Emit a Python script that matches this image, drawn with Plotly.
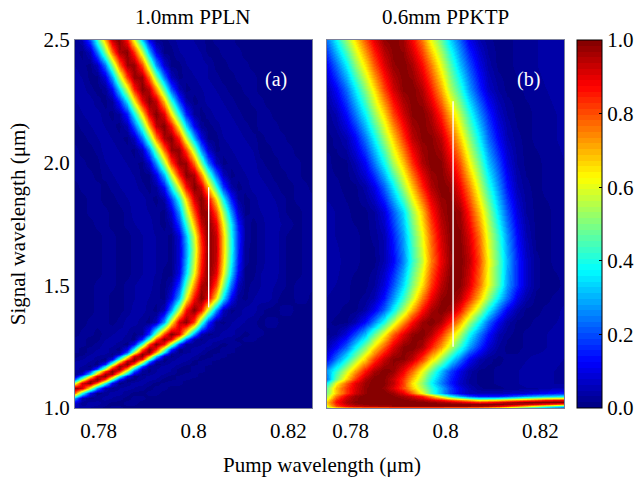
import numpy as np
import plotly.graph_objects as go

# Pump wavelength grid (um) and signal wavelength rows (um)
ppln_pump = np.linspace(0.775, 0.825, 33)
ppktp_pump = np.linspace(0.775, 0.825, 26)

ppln_signal = [1.00, 1.02, 1.04, 1.06, 1.08, 1.10, 1.11, 1.12, 1.13, 1.14, 1.15, 1.16, 1.17, 1.18, 1.19, 1.20, 1.21,
               1.22, 1.23, 1.24, 1.26, 1.28, 1.30, 1.35, 1.40, 1.45, 1.50, 1.55, 1.60, 1.65, 1.70, 1.75, 1.80, 1.85,
               1.90, 1.95, 2.00, 2.05, 2.10, 2.15, 2.20, 2.25, 2.30, 2.35, 2.40, 2.45, 2.50]

# Values, in percent; the dark background continues to the right of each listed row
ppln_rows = [
    [5,4,3,2,1,2,2],
    [8,2,4,4,2,1,1,2,2],
    [27,5,1,2,4,3,2,1,2,2],
    [77,42,12,1,2,4,4,2,1,1,2,2],
    [99,92,61,27,5,1,3,4,3,2,1,2,2],
    [59,91,99,77,42,12,1,2,4,4,2,1,2,2,2],
    [38,73,98,94,65,30,6,1,2,4,3,2,1,2,2],
    [21,52,85,100,84,50,18,2,1,3,4,3,1,1,2,2],
    [5,27,61,92,99,77,42,12,1,2,4,4,2,1,2,2,2],
    [1,8,34,69,97,96,67,34,8,1,2,4,3,2,1,2,2],
    [2,2,18,50,82,100,87,54,21,3,1,3,4,3,1,1,2,2],
    [4,2,3,21,57,91,98,71,34,6,1,3,4,3,1,1,2,2],
    [4,3,1,6,34,71,98,91,57,21,3,2,4,4,2,1,2,2],
    [4,4,2,1,15,50,85,100,79,42,11,1,2,4,3,2,1,2,2],
    [3,4,3,1,4,27,62,95,96,65,27,5,1,3,4,3,1,2,2],
    [2,3,4,2,1,10,42,77,100,87,50,16,1,2,4,4,2,1,2,2],
    [1,2,4,3,2,3,22,57,92,98,71,34,6,1,3,4,3,1,1,2,2],
    [1,1,3,4,3,1,7,34,73,99,90,57,21,2,2,4,4,2,1,2,2],
    [2,1,2,4,4,2,2,19,54,90,99,73,38,8,1,2,4,3,1,1,2,2],
    [2,1,2,3,4,2,1,10,38,77,100,87,52,18,1,2,4,4,2,1,2,2],
    [2,2,1,2,4,4,2,1,12,44,81,100,87,54,18,2,2,3,4,2,1,2,2],
    [2,2,1,1,3,4,4,2,1,15,44,79,99,90,57,24,4,1,3,4,3,2,1,2,2],
    [1,2,2,1,2,3,4,3,1,3,18,50,81,100,90,59,27,5,1,2,4,4,2,1,2,2],
    [1,1,2,2,2,1,2,4,4,2,1,6,28,61,92,99,81,46,18,2,1,3,4,3,2,1,2,2],
    [1,1,1,2,2,1,1,2,4,4,2,1,6,27,57,87,100,87,57,27,6,1,2,4,4,2,1,1,2,2],
    [1,1,1,2,2,1,1,2,3,4,3,2,1,10,30,61,87,100,90,65,36,12,2,1,3,4,4,2,1,1,2,2,1],
    [1,1,1,2,2,2,1,2,3,4,4,2,1,4,18,46,73,95,98,81,52,24,6,1,2,3,4,3,2,1,2,2,2],
    [1,1,1,1,2,2,1,1,2,3,4,3,1,1,10,34,61,87,100,90,63,34,12,1,1,3,4,4,2,1,1,2,2],
    [1,1,1,1,2,2,1,1,2,3,4,3,2,1,8,30,57,84,100,93,67,38,15,2,1,2,4,4,2,1,1,2,2],
    [1,1,1,1,2,2,1,1,2,3,4,3,2,1,8,28,55,82,99,94,68,40,16,2,1,2,4,4,2,1,1,2,2],
    [1,1,1,1,2,2,1,1,2,3,4,3,2,1,9,31,58,85,100,93,68,39,17,3,1,2,4,4,2,1,1,2,2],
    [1,1,1,2,2,1,1,2,3,4,4,2,1,4,18,42,69,93,100,89,63,36,14,3,1,2,4,4,3,2,1,2,2],
    [1,1,2,2,2,1,1,2,4,4,3,2,1,8,27,54,80,98,97,80,54,27,8,1,2,3,4,4,2,1,1,2,2],
    [1,1,2,2,1,1,2,3,4,4,2,1,4,18,40,67,91,100,89,65,38,15,3,1,2,4,4,3,2,1,2,2,2],
    [1,2,2,2,1,2,3,4,4,2,1,3,13,36,62,87,100,93,69,42,18,4,1,2,4,4,3,2,1,1,2,2,1],
    [2,2,2,1,2,3,4,4,3,1,1,10,30,57,84,99,96,75,48,23,6,1,2,3,4,3,2,1,1,2,2,1,1],
    [2,2,1,1,3,4,4,3,2,1,8,27,54,81,98,97,77,50,24,6,1,2,3,4,4,2,1,1,2,2,2,1,1],
    [2,1,1,2,4,4,3,2,1,6,24,50,77,97,98,81,54,27,8,1,2,3,4,4,3,1,1,2,2,2,1,1,1],
    [1,1,2,3,4,3,2,1,6,24,48,75,96,99,84,57,30,10,1,1,3,4,4,3,2,1,2,2,2,1],
    [1,2,3,4,3,2,1,5,21,44,71,94,100,87,61,34,12,2,1,2,4,4,3,2,1,2,2,2,1],
    [2,3,4,4,2,1,3,15,38,65,90,100,90,65,38,15,3,1,2,4,4,3,2,1,1,2,2,1],
    [3,4,4,2,1,3,15,36,63,89,100,93,69,42,18,4,1,2,4,4,3,2,1,1,2,2,1],
    [4,4,2,1,2,12,34,59,85,100,94,73,46,21,5,1,2,3,4,3,2,1,1,2,2,1],
    [4,3,1,1,9,28,55,82,98,97,77,50,24,6,1,2,3,4,3,2,1,1,2,2,2],
    [3,2,1,6,24,50,77,97,98,81,54,27,8,1,1,3,4,4,3,1,1,2,2,2],
    [2,1,6,24,50,77,96,99,83,57,30,10,1,1,3,4,4,3,1,1,2,2,2],
    [1,5,19,42,69,93,100,87,61,34,12,2,1,2,4,4,3,2,1,2,2,2],
]

ppktp_signal = [1.000, 1.008, 1.016, 1.024, 1.032, 1.04, 1.05, 1.06, 1.08, 1.10, 1.12, 1.15, 1.20, 1.25, 1.30,
                1.35, 1.40, 1.45, 1.50, 1.60, 1.70, 1.80, 1.90, 2.00, 2.10, 2.20, 2.30, 2.40, 2.50]

ppktp_rows = [
    [50,58,64,66,66,66,66,66,66,66,66,66,66,64,64,62,60,56,52,46,40,34,28,22,18,14],
    [62,80,88,92,94,95,96,97,97,97,97,97,97,97,97,97,96,94,90,84,76,68,60,52,44,38],
    [66,84,93,97,99,100,100,100,100,100,100,100,100,100,100,100,100,100,99,98,96,93,90,86,82,78],
    [68,86,95,99,100,100,100,100,100,100,99,98,96,94,91,88,84,86,90,94,97,99,100,100,100,100],
    [64,84,94,98,100,100,100,100,99,98,96,92,88,82,76,70,62,64,66,70,74,78,82,86,88,90],
    [58,80,92,98,100,100,100,100,98,95,90,82,72,60,50,42,36,36,38,42,46,50,54,58,60,62],
    [55,76,90,97,100,100,100,99,96,92,85,72,56,40,28,20,15,14,15,18,22,26,30,32,34,36],
    [50,68,82,92,98,100,100,97,90,78,62,44,30,18,10,6,5,5,5,6,7,8,10,12,14,15],
    [48,69,82,91,98,100,98,91,81,68,55,42,30,19,10,5,2,1,1,2,2,3,3,4,5,5],
    [38,61,78,90,97,100,99,94,82,65,52,38,25,15,7,3,1,1,2,2,3,4,4,4,3,3],
    [24,48,66,82,95,100,99,93,83,69,55,40,27,16,8,3,1,1,2,2,3,4,4,4,3,3],
    [28,42,57,72,86,96,100,98,89,77,61,47,32,19,10,4,1,1,2,2,3,4,4,4,3,2],
    [12,24,38,52,67,82,93,99,99,94,82,67,53,38,24,12,5,2,1,2,2,3,4,4,4,3],
    [5,12,22,36,50,65,79,91,99,100,96,85,72,57,42,28,17,8,3,1,1,2,2,3,4,4],
    [1,3,9,19,31,47,62,78,90,98,100,95,84,70,55,39,25,14,5,2,1,2,2,3,4,4],
    [2,1,1,5,13,25,40,56,73,87,97,100,96,85,71,54,38,23,11,4,1,1,2,2,3,4],
    [3,2,1,1,4,11,22,37,54,70,86,96,100,97,86,71,55,38,23,11,4,1,1,2,2,4],
    [3,2,2,1,2,5,14,27,42,57,75,89,98,100,95,84,69,53,36,23,10,4,1,1,2,2],
    [4,3,2,1,1,3,9,20,34,50,65,82,94,100,99,91,77,61,46,28,16,7,2,1,1,2],
    [4,4,2,2,1,1,5,12,25,42,57,75,89,98,100,94,81,63,47,30,16,7,2,1,2,2],
    [4,3,2,2,1,2,5,15,28,45,61,78,92,99,99,91,77,59,43,27,13,5,1,1,2,2],
    [4,3,2,1,1,3,9,21,34,52,68,85,96,100,97,85,69,53,35,21,9,3,1,1,2,3],
    [2,2,1,1,4,10,22,36,53,68,84,95,100,98,88,75,58,42,27,14,5,2,1,2,2,3],
    [2,1,1,5,12,24,38,54,68,83,95,100,99,91,79,63,48,32,20,9,3,1,1,2,2,3],
    [1,2,5,12,24,37,53,67,82,94,99,99,94,82,67,52,37,23,12,5,2,1,2,2,3,4],
    [2,5,13,24,37,52,66,81,92,99,100,95,84,70,55,41,27,16,7,3,1,1,2,2,3,4],
    [5,12,23,36,51,65,81,92,99,100,95,85,71,55,42,28,16,7,3,1,1,2,2,3,4,4],
    [12,23,36,51,65,79,91,98,100,96,87,75,60,46,31,20,10,4,1,1,2,2,3,4,4,4],
    [24,37,52,65,79,90,98,100,97,88,76,61,48,34,22,11,5,2,1,1,2,3,3,4,4,4],
]

# White marker lines
ppln_line_x = [0.8032, 0.8032]
ppln_line_y = [1.41, 1.90]
ppktp_line_x = [0.8016, 0.8016]
ppktp_line_y = [1.25, 2.25]

x_ticks = [0.78, 0.8, 0.82]
y_ticks = [1.0, 1.5, 2.0, 2.5]
bar_ticks = [0.0, 0.2, 0.4, 0.6, 0.8, 1.0]

jet_pos = [0, 0.125, 0.375, 0.625, 0.875, 1]
jet_r = [0, 0, 0, 255, 255, 127]
jet_g = [0, 0, 255, 255, 0, 0]
jet_b = [127, 255, 255, 0, 0, 0]

LEVELS = 64
scale = []
for k in range(LEVELS):
    t = (k + 0.5) / LEVELS
    col = "rgb(%d,%d,%d)" % (np.interp(t, jet_pos, jet_r), np.interp(t, jet_pos, jet_g), np.interp(t, jet_pos, jet_b))
    scale += [[k / LEVELS, col], [(k + 1) / LEVELS, col]]

pad = lambda r: r + [1] * (33 - len(r))
ppln_z = np.array([pad(r) for r in ppln_rows]) / 100
ppktp_z = np.array(ppktp_rows) / 100

W, H = 638, 479
FONT = "Liberation Serif"
X0a, X1a, X0b, X1b = 75 / W, 312 / W, 327 / W, 564 / W
Y0, Y1 = (H - 408) / H, (H - 40) / H

fig = go.Figure()
fig.add_trace(go.Heatmap(x=ppln_pump, y=ppln_signal, z=ppln_z, coloraxis="coloraxis", zsmooth="best",
                         xaxis="x", yaxis="y"))
fig.add_trace(go.Heatmap(x=ppktp_pump, y=ppktp_signal, z=ppktp_z, coloraxis="coloraxis", zsmooth="best",
                         xaxis="x2", yaxis="y2"))
fig.add_trace(go.Scatter(x=ppln_line_x, y=ppln_line_y, mode="lines", line=dict(color="white", width=1.4),
                         showlegend=False, xaxis="x", yaxis="y"))
fig.add_trace(go.Scatter(x=ppktp_line_x, y=ppktp_line_y, mode="lines", line=dict(color="white", width=1.4),
                         showlegend=False, xaxis="x2", yaxis="y2"))

xcommon = dict(range=[0.775, 0.825], tickvals=x_ticks, ticks="", showgrid=False, zeroline=False,
               showline=True, mirror=True, linecolor="#7a7f9a", linewidth=1, tickfont=dict(size=21),
               ticklabelstandoff=4)
ycommon = dict(range=[1.0, 2.5], tickvals=y_ticks, ticks="", showgrid=False, zeroline=False,
               showline=True, mirror=True, linecolor="#7a7f9a", linewidth=1, tickfont=dict(size=21))

shapes = [dict(type="line", xref="paper", yref="paper", x0=577 / W, x1=580 / W,
               y0=Y0 + v * (Y1 - Y0), y1=Y0 + v * (Y1 - Y0), line=dict(color="black", width=1))
          for v in bar_ticks[1:-1]]

label = dict(xref="paper", yref="paper", showarrow=False, xanchor="center", yanchor="middle")
annotations = [
    dict(text="1.0mm PPLN", x=193 / W, y=1 - 17 / H, font=dict(size=21), **label),
    dict(text="0.6mm PPKTP", x=445 / W, y=1 - 17 / H, font=dict(size=21), **label),
    dict(text="(a)", x=276 / W, y=1 - 79 / H, font=dict(size=20, color="white"), **label),
    dict(text="(b)", x=528 / W, y=1 - 79 / H, font=dict(size=20, color="white"), **label),
    dict(text="Pump wavelength (μm)", x=322 / W, y=1 - 465 / H, font=dict(size=21), **label),
]

fig.update_layout(
    width=W, height=H, autosize=False, margin=dict(l=0, r=0, t=0, b=0, autoexpand=False),
    paper_bgcolor="white", plot_bgcolor="white", showlegend=False,
    font=dict(family=FONT, color="black"),
    xaxis=dict(domain=[X0a, X1a], anchor="y", **xcommon),
    yaxis=dict(domain=[Y0, Y1], anchor="x", tickformat=".1f",
               title=dict(text="Signal wavelength (μm)", font=dict(size=21), standoff=12), **ycommon),
    xaxis2=dict(domain=[X0b, X1b], anchor="y2", **xcommon),
    yaxis2=dict(domain=[Y0, Y1], anchor="x2", showticklabels=False, **ycommon),
    coloraxis=dict(colorscale=scale, cmin=0, cmax=1, colorbar=dict(
        x=577 / W, xanchor="left", xpad=0, ypad=0, y=Y0, yanchor="bottom", len=Y1 - Y0, lenmode="fraction",
        thickness=25, thicknessmode="pixels", outlinecolor="black", outlinewidth=1,
        tickvals=bar_ticks, tickformat=".1f", ticks="inside", ticklen=3, tickcolor="black",
        tickfont=dict(size=21))),
    shapes=shapes, annotations=annotations,
)

fig.write_html("out.html", config=dict(displayModeBar=False), post_script="document.body.style.margin='0';")
